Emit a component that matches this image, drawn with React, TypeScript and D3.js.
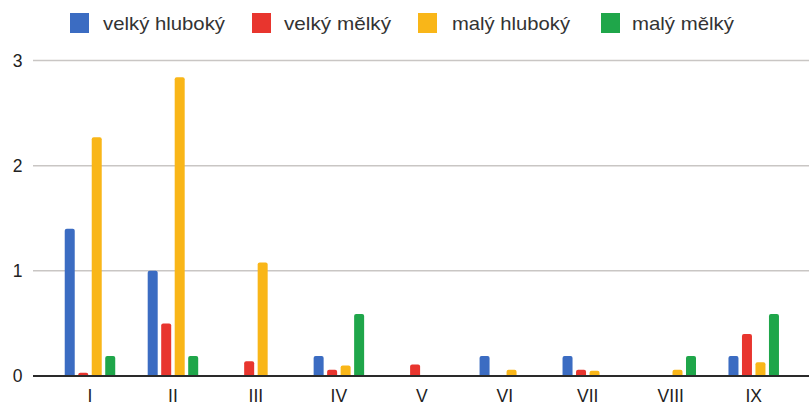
import React from "react";
import * as d3 from "d3";

const categories = ["I", "II", "III", "IV", "V", "VI", "VII", "VIII", "IX"];
const seriesNames = ["velký hluboký", "velký mělký", "malý hluboký", "malý mělký"];
const seriesColors = ["#3b6cc2", "#e8352e", "#f9b618", "#1fa64a"];
const velkyHluboky = [1.4, 1.0, 0, 0.19, 0, 0.19, 0.19, 0, 0.19];
const velkyMelky = [0.03, 0.5, 0.14, 0.06, 0.11, 0, 0.06, 0, 0.4];
const malyHluboky = [2.27, 2.84, 1.08, 0.1, 0.01, 0.06, 0.05, 0.06, 0.13];
const malyMelky = [0.19, 0.19, 0, 0.59, 0, 0, 0, 0.19, 0.59];
const yTicks = [0, 1, 2, 3];

const seriesValues = [velkyHluboky, velkyMelky, malyHluboky, malyMelky];

const W = 809;
const H = 403;

export default function App() {
  const x0 = d3.scaleBand<string>().domain(categories).range([48.5, 795.2]).padding(0);
  const x1 = d3
    .scaleBand<string>()
    .domain(seriesNames)
    .range([-25.25, 25.25])
    .paddingInner(0.259)
    .paddingOuter(0);
  const y = d3.scaleLinear().domain([0, 3]).range([376, 60.5]);
  const bw = x1.bandwidth();
  const r = 2;

  const barPath = (xl: number, yt: number, yb: number) => {
    const h = yb - yt;
    if (h <= 0.3) return "";
    const rr = Math.min(r, h, bw / 2);
    const p = d3.path();
    p.moveTo(xl, yb);
    p.lineTo(xl, yt + rr);
    p.quadraticCurveTo(xl, yt, xl + rr, yt);
    p.lineTo(xl + bw - rr, yt);
    p.quadraticCurveTo(xl + bw, yt, xl + bw, yt + rr);
    p.lineTo(xl + bw, yb);
    p.closePath();
    return p.toString();
  };

  const legendItems = [
    { sx: 70, tx: 103, tl: 122 },
    { sx: 252, tx: 284, tl: 107 },
    { sx: 418, tx: 452, tl: 118 },
    { sx: 601, tx: 632, tl: 102 },
  ];

  const font = "'Liberation Sans', Arial, sans-serif";

  return (
    <svg
      width={W}
      height={H}
      style={{ position: "absolute", left: 0, top: 0, background: "#fff" }}
      fontFamily={font}
    >
      <rect x={0} y={0} width={W} height={H} fill="#fff" />
      {/* gridlines */}
      {yTicks
        .filter((t) => t !== 0)
        .map((t) => (
          <line key={t} x1={33} x2={W} y1={y(t)} y2={y(t)} stroke="#c9c6c4" strokeWidth={1.5} />
        ))}
      {/* y labels */}
      {yTicks.map((t) => (
        <text key={t} x={17.5} y={y(t) + 6} fontSize={17.5} fill="#222" textAnchor="middle">
          {t}
        </text>
      ))}
      {/* bars */}
      {categories.map((c, ci) => (
        <g key={c} transform={`translate(${(x0(c) ?? 0) + x0.bandwidth() / 2},0)`}>
          {seriesNames.map((s, si) => {
            const v = seriesValues[si][ci];
            const d = barPath(x1(s) ?? 0, y(v), y(0));
            return d ? <path key={s} d={d} fill={seriesColors[si]} /> : null;
          })}
        </g>
      ))}
      {/* axis line */}
      <line x1={33} x2={W} y1={y(0)} y2={y(0)} stroke="#2a2a2a" strokeWidth={2} />
      {/* x labels */}
      {categories.map((c) => (
        <text
          key={c}
          x={(x0(c) ?? 0) + x0.bandwidth() / 2}
          y={402}
          fontSize={17.5}
          fill="#222"
          textAnchor="middle"
        >
          {c}
        </text>
      ))}
      {/* legend */}
      {seriesNames.map((s, i) => (
        <g key={s}>
          <rect x={legendItems[i].sx} y={13} width={19} height={20} fill={seriesColors[i]} />
          <text
            x={legendItems[i].tx}
            y={30}
            fontSize={19}
            fill="#333"
            textLength={legendItems[i].tl}
            lengthAdjust="spacingAndGlyphs"
          >
            {s}
          </text>
        </g>
      ))}
    </svg>
  );
}
